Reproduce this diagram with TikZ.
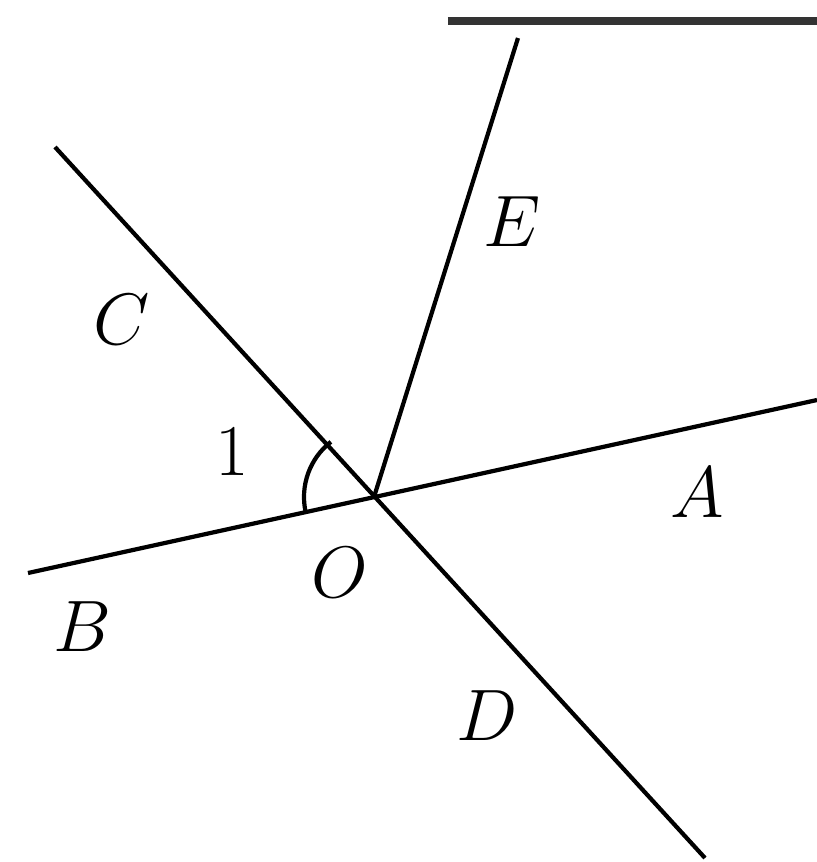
\documentclass[tikz,border=0pt]{standalone}
\usepackage{amsmath,amssymb}
\usetikzlibrary{arrows}

\begin{document}
\begin{tikzpicture}[scale=1]
\useasboundingbox (0,0) rectangle (8.17,-8.62);
\tikzset{ln/.style={line width=1.2pt, black},
         lab/.style={font=\fontsize{21}{24}\selectfont}}

\coordinate (O) at (3.74, -4.97);
\coordinate (pB) at (0.28, -5.73);
\coordinate (pA) at (8.17, -4.00);
\coordinate (pC) at (0.55, -1.47);
\coordinate (pD) at (7.05, -8.58);
\coordinate (pE) at (5.18, -0.38);
\coordinate (t1) at (4.48, -0.21);
\coordinate (t2) at (8.17, -0.21);

\draw[line width=2.4pt, black!80] (t1) -- (t2);
\draw[ln] (pB) -- (pA);
\draw[ln] (pC) -- (pD);
\draw[ln] (O) -- (pE);
\draw[ln] ([shift={(128:0.7)}]O) arc (128:192.4:0.7);

\node[lab] (lE) at (5.12, -2.22) {$E$};
\node[lab] (lC) at (1.22, -3.20) {$C$};
\node[lab] (lA) at (6.97, -4.93) {$A$};
\node[lab] (lO) at (3.40, -5.73) {$O$};
\node[lab] (lB) at (0.82, -6.27) {$B$};
\node[lab] (lD) at (4.87, -7.16) {$D$};
\node[lab] (l1) at (2.32, -4.52) {$1$};

\end{tikzpicture}
\end{document}
